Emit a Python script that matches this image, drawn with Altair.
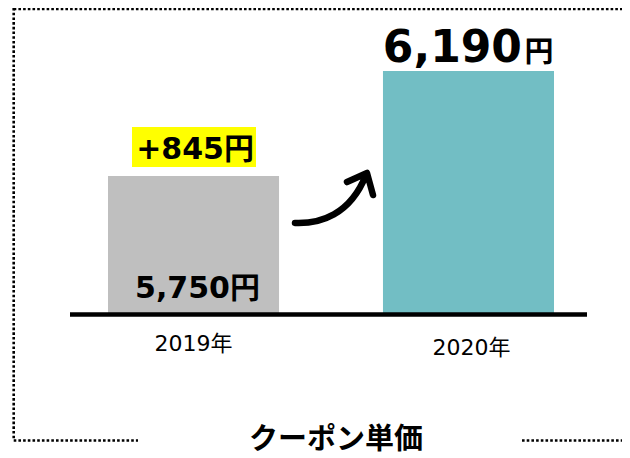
import altair as alt
import pandas as pd

# ---- data ----
years = ["2019年", "2020年"]
values = [5750, 6190]
value_labels = ["5,750円", "6,190"]
bar_colors = ["#BFBFBF", "#72BEC4"]
increase_label = "+845円"
unit_label = "円"
title_text = "クーポン単価"
axis_min = 5170  # y scale does not start at zero in the reference

FONT = "'DejaVu Sans', 'Noto Sans CJK JP', sans-serif"
INK = "#000000"

df = pd.DataFrame({"year": years, "value": values, "label": value_labels,
                   "color": bar_colors, "base": [axis_min, axis_min]})
df19 = df.iloc[[0]]
df20 = df.iloc[[1]]
one = pd.DataFrame({"base": [axis_min]})

x_scale = alt.Scale(domain=years, range=[100, 546], paddingInner=0.378, paddingOuter=0)
y_scale = alt.Scale(domain=[axis_min, values[1]], range=[306.5, 63], zero=False, nice=False)
X = alt.X("year:N", sort=years, scale=x_scale, axis=None)
Y = alt.Y("value:Q", scale=y_scale, axis=None)

bars = alt.Chart(df).mark_bar().encode(
    x=X, y=Y, y2=alt.Y2("base:Q"), color=alt.Color("color:N", scale=None)
)

baseline = alt.Chart(one).mark_rule(color=INK, strokeWidth=4.5).encode(
    x=alt.value(62), x2=alt.value(579), y=alt.Y("base:Q", scale=y_scale, axis=None)
)

low_label = alt.Chart(df19).mark_text(
    font=FONT, fontSize=30, fontWeight="bold", color=INK, align="center",
    baseline="alphabetic", dx=4
).encode(x=X, y=alt.value(290), text="label:N")

highlight = alt.Chart(one).mark_rect(color="#FFFF00").encode(
    x=alt.value(124), x2=alt.value(248), y=alt.value(119), y2=alt.value(159)
)
inc_label = alt.Chart(df19).mark_text(
    text=increase_label, font=FONT, fontSize=30, fontWeight="bold", color=INK,
    align="center", baseline="alphabetic", dx=1.5
).encode(x=X, y=alt.value(151))

top_num = alt.Chart(df20).mark_text(
    font=FONT, fontSize=44, fontWeight="bold", color=INK, align="right",
    baseline="alphabetic", dx=53.5, dy=-9
).encode(x=X, y=Y, text="label:N")
top_unit = alt.Chart(df20).mark_text(
    text=unit_label, font=FONT, fontSize=29, fontWeight="bold", color=INK, align="left",
    baseline="alphabetic", dx=56, dy=-9
).encode(x=X, y=Y)

year_label19 = alt.Chart(df19).mark_text(
    font=FONT, fontSize=22, color=INK, align="center", baseline="middle"
).encode(x=X, y=alt.value(336), text="year:N")
year_label20 = alt.Chart(df20).mark_text(
    font=FONT, fontSize=22, color=INK, align="center", baseline="middle", dx=3
).encode(x=X, y=alt.value(340), text="year:N")

title = alt.Chart(one).mark_text(
    text=title_text, font=FONT, fontSize=29, fontWeight="bold", color=INK,
    align="center", baseline="middle"
).encode(x=alt.value(328), y=alt.value(432))

arrow_path = ("M -0.9 0.6 C -0.275 0.625 0.475 0.4 0.875 -0.6 "
              "M 0.4 -0.425 L 0.9 -0.65 L 1.05 -0.1")
arrow = alt.Chart(one).mark_point(
    shape=arrow_path, size=6400, filled=False, stroke=INK, strokeWidth=6.5,
    strokeCap="round", strokeJoin="round", opacity=1
).encode(x=alt.value(323), y=alt.value(191))

dot = dict(color=INK, strokeWidth=2.6, strokeDash=[2.6, 2.1])
frame_top = alt.Chart(one).mark_rule(**dot).encode(
    x=alt.value(5.7), x2=alt.value(614), y=alt.value(1)
)
frame_left = alt.Chart(one).mark_rule(**dot).encode(
    x=alt.value(5.7), y=alt.value(0), y2=alt.value(432.5)
)
frame_bl = alt.Chart(one).mark_rule(**dot).encode(
    x=alt.value(5.7), x2=alt.value(130), y=alt.value(432.5)
)
frame_br = alt.Chart(one).mark_rule(**dot).encode(
    x=alt.value(514), x2=alt.value(614), y=alt.value(432.5)
)

chart = alt.layer(
    frame_top, frame_left, frame_bl, frame_br,
    bars, baseline, low_label, highlight, inc_label, top_num, top_unit,
    year_label19, year_label20, title, arrow
).properties(
    width=614, height=442,
    padding={"left": 0, "top": 0, "right": 0, "bottom": 8},
    autosize=alt.AutoSizeParams(type="none")
).configure_view(stroke=None)

chart.save("out.html", embed_options={"renderer": "svg", "actions": False})
